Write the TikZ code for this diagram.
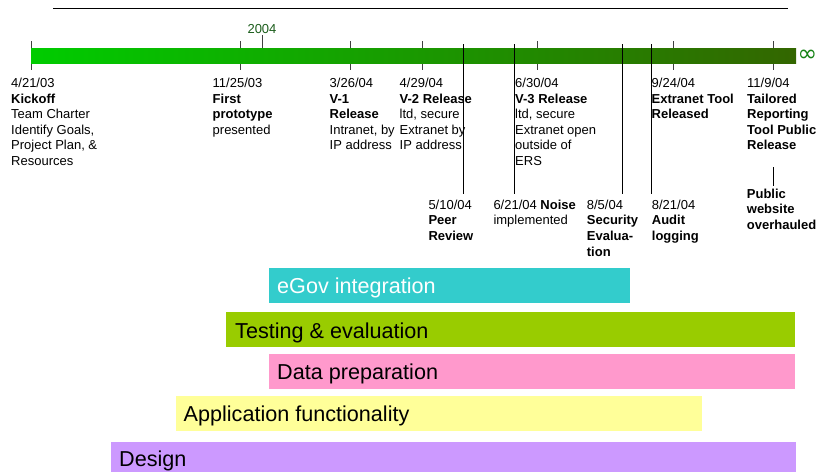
\documentclass[tikz,border=0pt]{standalone}
\usepackage{fontspec}
\setmainfont{Liberation Sans}
\newfontfamily\symfnt{DejaVu Sans}
\definecolor{egovc}{RGB}{51,204,204}
\definecolor{testc}{RGB}{153,204,0}
\definecolor{datac}{RGB}{255,153,204}
\definecolor{appc}{RGB}{255,255,153}
\definecolor{desc}{RGB}{204,153,255}
\definecolor{tlstart}{RGB}{0,204,0}
\definecolor{tlend}{RGB}{51,102,0}
\definecolor{yearc}{RGB}{26,92,26}
\definecolor{infc}{RGB}{20,130,20}
\newcommand{\mylines}[1]{\begin{tabular}[t]{@{}l@{}}#1\end{tabular}}
\begin{document}
\begin{tikzpicture}[x=1pt,y=-1pt,
  lbl/.style={anchor=base west, inner sep=0pt, font=\fontsize{13}{15.6}\selectfont},
  shorttick/.style={draw=black!75, line width=0.8pt},
  longline/.style={draw=black, line width=0.9pt},
  barbox/.style={anchor=north west, inner sep=0pt, outer sep=0pt, draw=none},
  barlbl/.style={anchor=base west, inner sep=0pt, font=\fontsize{21.6}{24}\selectfont}]
\useasboundingbox (0,0) rectangle (817,472);

% top rule
\coordinate (rulea) at (53,8);
\coordinate (ruleb) at (788,8);
\draw[line width=0.9pt] (rulea) -- (ruleb);

% short ticks (behind the bar)
\foreach \x/\n in {31/a,240/b,350/c,422/d,537/e,673/f,773/g}{
  \coordinate (t\n1) at (\x,41);
  \coordinate (t\n2) at (\x,70);
  \draw[shorttick] (t\n1) -- (t\n2);
}
\coordinate (y1) at (262,35);
\coordinate (y2) at (262,63);
\draw[shorttick] (y1) -- (y2);
\node[anchor=base, inner sep=0pt, text=yearc, font=\fontsize{13}{15.6}\selectfont] (year) at (262,33.3) {2004};

% timeline bar
\node[barbox, minimum width=765pt, minimum height=15pt, left color=tlstart, right color=tlend] (tl) at (31,48) {};
\node[anchor=west, inner sep=0pt, text=infc, font=\symfnt\fontsize{23.5}{24}\selectfont] (inf) at (797.5,55.5) {∞};

% long lines (over the bar)
\foreach \x/\n in {463.5/p,514/q,622.3/r,651/s}{
  \coordinate (l\n1) at (\x,44);
  \coordinate (l\n2) at (\x,194);
  \draw[longline] (l\n1) -- (l\n2);
}
\coordinate (pu1) at (773,167);
\coordinate (pu2) at (773,186);
\draw[longline] (pu1) -- (pu2);

% upper labels
\node[lbl] (kick) at (11,87.5) {\mylines{4/21/03\\\textbf{Kickoff}\\Team Charter\\Identify Goals,\\Project Plan, \&\\Resources}};
\node[lbl] (proto) at (212.5,87.5) {\mylines{11/25/03\\\textbf{First}\\\textbf{prototype}\\presented}};
\node[lbl] (v1) at (329.5,87.5) {\mylines{3/26/04\\\textbf{V-1}\\\textbf{Release}\\Intranet, by\\IP address}};
\node[lbl] (v2) at (399.5,87.5) {\mylines{4/29/04\\\textbf{V-2 Release}\\ltd, secure\\Extranet by\\IP address}};
\node[lbl] (v3) at (515,87.5) {\mylines{6/30/04\\\textbf{V-3 Release}\\ltd, secure\\Extranet open\\outside of\\ERS}};
\node[lbl] (ext) at (651.5,87.5) {\mylines{9/24/04\\\textbf{Extranet Tool}\\\textbf{Released}}};
\node[lbl] (tail) at (747,87.5) {\mylines{11/9/04\\\textbf{Tailored}\\\textbf{Reporting}\\\textbf{Tool Public}\\\textbf{Release}}};
\node[lbl] (pub) at (746.7,198.3) {\mylines{\textbf{Public}\\\textbf{website}\\\textbf{overhauled}}};

% lower labels
\node[lbl] (peer) at (428.3,209.3) {\mylines{5/10/04\\\textbf{Peer}\\\textbf{Review}}};
\node[lbl] (noise) at (493.3,209.3) {\mylines{6/21/04 \textbf{Noise}\\implemented}};
\node[lbl] (sec) at (586.7,209.3) {\mylines{8/5/04\\\textbf{Security}\\\textbf{Evalua-}\\\textbf{tion}}};
\node[lbl] (audit) at (651.7,209.3) {\mylines{8/21/04\\\textbf{Audit}\\\textbf{logging}}};

% phase bars
\node[barbox, fill=egovc, minimum width=361pt, minimum height=34.7pt] (egov) at (269,268) {};
\node[barlbl, text=white] (egovt) at (277,293.3) {eGov integration};
\node[barbox, fill=testc, minimum width=569pt, minimum height=34.7pt] (test) at (226,312) {};
\node[barlbl] (testt) at (235,338) {Testing \& evaluation};
\node[barbox, fill=datac, minimum width=526pt, minimum height=34.7pt] (data) at (269,354) {};
\node[barlbl] (datat) at (277,379.3) {Data preparation};
\node[barbox, fill=appc, minimum width=526pt, minimum height=35pt] (app) at (176,396) {};
\node[barlbl] (appt) at (183.5,421) {Application functionality};
\node[barbox, fill=desc, minimum width=685pt, minimum height=30pt] (des) at (111,442) {};
\node[barlbl] (dest) at (119,466.7) {Design};
\end{tikzpicture}
\end{document}
